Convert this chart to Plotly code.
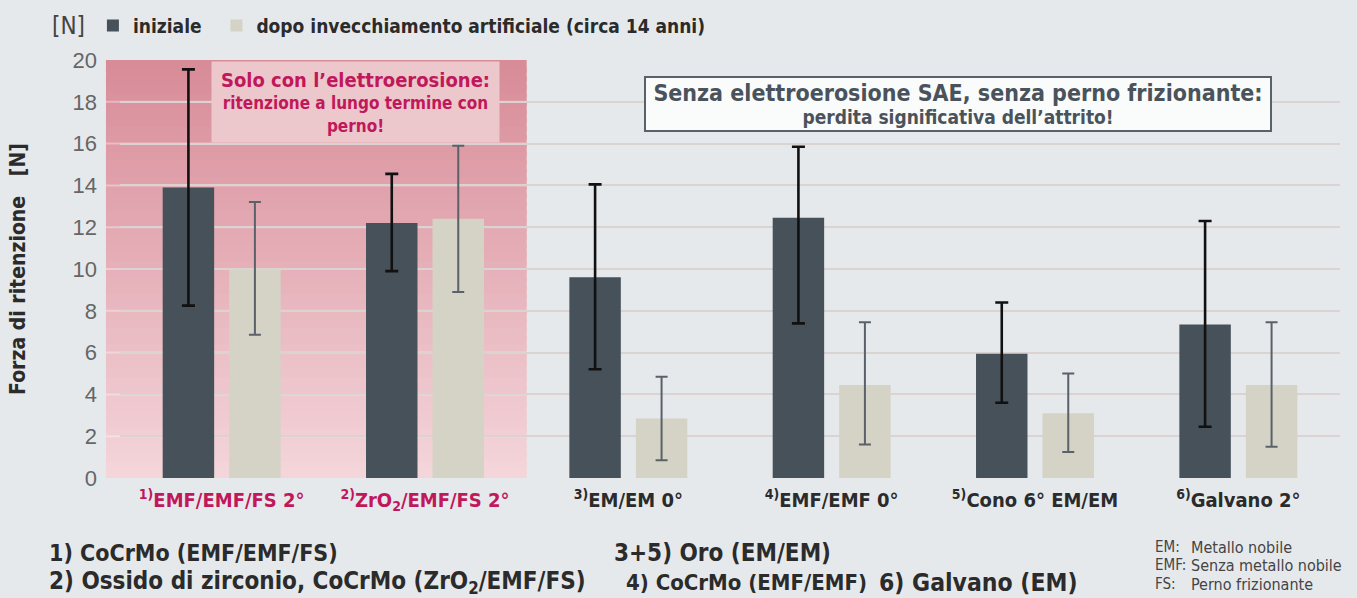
import plotly.graph_objects as go

# ---------------- data ----------------
categories = ["1", "2", "3", "4", "5", "6"]
tick_labels = [
    '<span style="color:#c0185a"><sup>1)</sup>EMF/EMF/FS 2°</span>',
    '<span style="color:#c0185a"><sup>2)</sup>ZrO<sub>2</sub>/EMF/FS 2°</span>',
    '<sup>3)</sup>EM/EM 0°',
    '<sup>4)</sup>EMF/EMF 0°',
    '<sup>5)</sup>Cono 6° EM/EM',
    '<sup>6)</sup>Galvano 2°',
]
series_names = ["iniziale", "dopo invecchiamento artificiale (circa 14 anni)"]
initial = [13.9, 12.2, 9.6, 12.45, 5.95, 7.35]
initial_err_plus = [5.65, 2.35, 4.45, 3.4, 2.45, 4.95]
initial_err_minus = [5.65, 2.3, 4.4, 5.05, 2.35, 4.9]
aged = [9.95, 12.4, 2.85, 4.45, 3.1, 4.45]
aged_err_plus = [3.25, 3.5, 2.0, 3.0, 1.9, 3.0]
aged_err_minus = [3.1, 3.5, 2.0, 2.85, 1.85, 2.95]
y_ticks = [0, 2, 4, 6, 8, 10, 12, 14, 16, 18, 20]

# ---------------- style ----------------
FONT = "Liberation Sans Narrow, DejaVu Sans Condensed, Roboto Condensed, sans-serif"
BG = "#e6e9ec"
DARK = "#46515a"
LIGHT = "#d4d3c6"
CRIMSON = "#c0185a"
TEXT = "#2b2b2b"

fig = go.Figure()
fig.add_trace(go.Bar(
    x=categories, y=initial, name=series_names[0], marker_color=DARK,
    marker_line_width=0, legend="legend",
    error_y=dict(type="data", symmetric=False, array=initial_err_plus,
                 arrayminus=initial_err_minus, color="#111111", thickness=2.6, width=6.5),
))
fig.add_trace(go.Bar(
    x=categories, y=aged, name=series_names[1], marker_color=LIGHT,
    marker_line_width=0, legend="legend2",
    error_y=dict(type="data", symmetric=False, array=aged_err_plus,
                 arrayminus=aged_err_minus, color="#5b6168", thickness=2, width=6),
))

# pink gradient region over first two groups (overlapping strips avoid seams)
shapes = []
n = 50
top = (216, 140, 152)
bot = (243, 213, 218)
for i in range(n):
    t = i / (n - 1)
    c = tuple(round(top[k] + (bot[k] - top[k]) * t) for k in range(3))
    y1 = 20 - 20 * i / n
    y0 = max(0, 20 - 20 * (i + 1) / n - 0.2)
    shapes.append(dict(type="rect", xref="paper", yref="y", x0=-0.0115, x1=1 / 3,
                       y0=y0, y1=y1, fillcolor="rgb(%d,%d,%d)" % c,
                       line=dict(width=0), layer="between"))
for v in y_ticks[1:-1]:
    shapes.append(dict(type="line", xref="paper", yref="y", x0=-0.0115, x1=1 / 3,
                       y0=v, y1=v, line=dict(color="rgba(255,255,255,0.35)", width=2),
                       layer="between"))

annotations = []
# legend unit label
annotations.append(dict(xref="paper", yref="paper", x=-0.0574, y=1.082, xanchor="left",
                        yanchor="middle", text="[N]", showarrow=False,
                        font=dict(family=FONT, size=24, color="#444")))
# pink box
annotations.append(dict(
    xref="paper", yref="paper", x=0.1934, y=0.8986, xanchor="center", yanchor="middle",
    text=("<span style='font-size:20px'>Solo con l’elettroerosione:</span><br>"
          "ritenzione a lungo termine con<br>perno!"),
    showarrow=False, bgcolor="#ecc7cc", width=285, height=78, borderpad=1,
    font=dict(family=FONT, size=17, color=CRIMSON, weight="bold"), align="center"))
# grey box
annotations.append(dict(
    xref="paper", yref="paper", x=0.6869, y=0.8938, xanchor="center", yanchor="middle",
    text=("<span style='font-size:23px'>Senza elettroerosione SAE, senza perno frizionante:</span><br>"
          "<span style='font-size:19px'>perdita significativa dell’attrito!</span>"),
    showarrow=False, bgcolor="#fafbfb", bordercolor="#59626a", borderwidth=2,
    width=622, height=50, borderpad=1,
    font=dict(family=FONT, size=18, color="#4a535b", weight="bold"), align="center"))

# bottom notes
def note(px, py, text, size=22, color=TEXT, weight="bold"):
    annotations.append(dict(xref="paper", yref="paper", x=(px - 120) / 1220,
                            y=(478.5 - py) / 419, xanchor="left", yanchor="middle",
                            text=text, showarrow=False,
                            font=dict(family=FONT, size=size, color=color, weight=weight)))

note(47, 554, "1) CoCrMo (EMF/EMF/FS)", size=23)
note(47, 583, "2) Ossido di zirconio, CoCrMo (ZrO<sub>2</sub>/EMF/FS)", size=24)
note(612, 554, "3+5) Oro (EM/EM)", size=24)
note(624, 583, "4) CoCrMo (EMF/EMF)", size=22)
note(877, 583, "6) Galvano (EM)", size=24.5)
for py, lab, txt in [(548, "EM:", "Metallo nobile"), (566, "EMF:", "Senza metallo nobile"),
                     (585, "FS:", "Perno frizionante")]:
    note(1153, py, lab, size=15, color="#444", weight="normal")
    note(1189, py, txt, size=16, color="#444", weight="normal")

legend_common = dict(orientation="h", y=1.082, xanchor="left", yanchor="middle",
                     bgcolor="rgba(0,0,0,0)",
                     font=dict(family=FONT, size=19, color=TEXT, weight="bold"),
                     itemwidth=30)

fig.update_layout(
    width=1357, height=598,
    margin=dict(l=120, r=17, t=59.5, b=119.5, autoexpand=False),
    paper_bgcolor=BG, plot_bgcolor=BG,
    barmode="group", bargap=0.346, bargroupgap=0.226,
    shapes=shapes, annotations=annotations,
    showlegend=True,
    legend=dict(x=-0.0222, **legend_common),
    legend2=dict(x=0.0790, **legend_common),
    xaxis=dict(tickmode="array", tickvals=categories, ticktext=tick_labels,
               tickfont=dict(family=FONT, size=20, color=TEXT, weight="bold"),
               showgrid=False, zeroline=False, showline=False, ticks="",
               ticklabelstandoff=8),
    yaxis=dict(range=[0, 20], tickmode="array", tickvals=y_ticks,
               tickfont=dict(family="Liberation Sans, Arial, sans-serif", size=22, color="#666"),
               showgrid=True, gridcolor="#dbd3d1", gridwidth=2, zeroline=False,
               showline=False, ticks="", ticklabelstandoff=22,
               title=dict(text="Forza di ritenzione&nbsp;&nbsp;&nbsp;[N]", standoff=41,
                          font=dict(family=FONT, size=21, color=TEXT, weight="bold"))),
)

fig.write_html("out.html", config={"displayModeBar": False},
               post_script="document.body.style.margin='0px';document.body.style.background='%s';" % BG)
